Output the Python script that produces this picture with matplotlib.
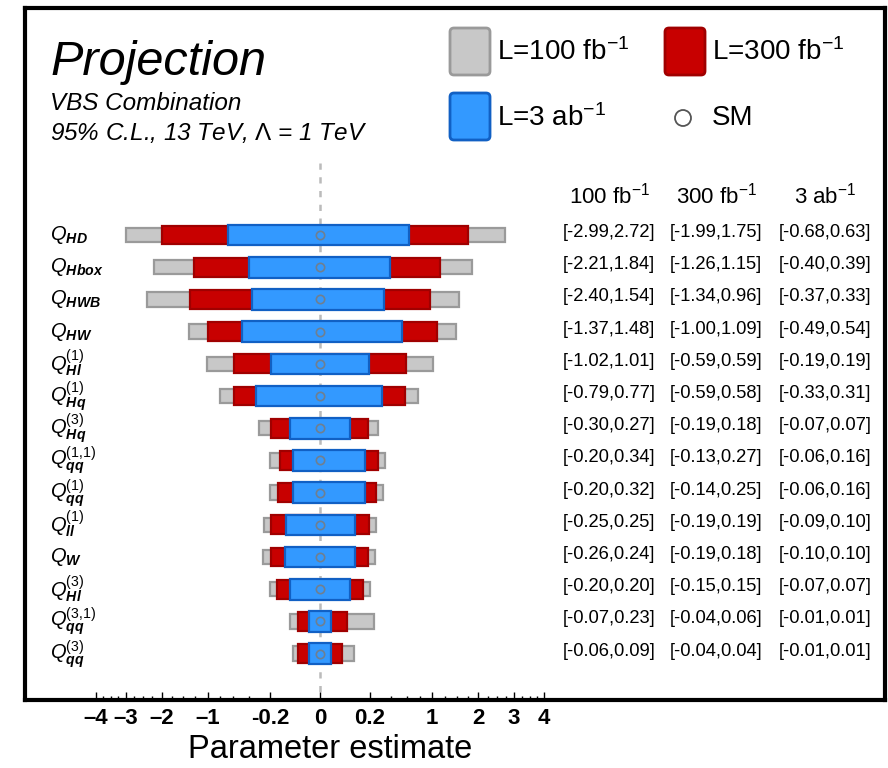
import matplotlib
matplotlib.use("Agg")
import matplotlib.pyplot as plt
from matplotlib.patches import FancyBboxPatch, Circle
import numpy as np

plt.rcParams['font.family'] = ['Liberation Sans', 'DejaVu Sans']
plt.rcParams['mathtext.fontset'] = 'custom'
plt.rcParams['mathtext.rm'] = 'Liberation Sans'
plt.rcParams['mathtext.it'] = 'Liberation Sans:italic:bold'
plt.rcParams['mathtext.sf'] = 'Liberation Sans:italic'
plt.rcParams['mathtext.bf'] = 'Liberation Sans:bold'

# --- Operators and 95% C.L. intervals ---
operators = [
    r'$\mathsf{Q}_{\mathit{HD}}$',
    r'$\mathsf{Q}_{\mathit{Hbox}}$',
    r'$\mathsf{Q}_{\mathit{HWB}}$',
    r'$\mathsf{Q}_{\mathit{HW}}$',
    r'$\mathsf{Q}_{\mathit{Hl}}^{\mathit{(1)}}$',
    r'$\mathsf{Q}_{\mathit{Hq}}^{\mathit{(1)}}$',
    r'$\mathsf{Q}_{\mathit{Hq}}^{\mathit{(3)}}$',
    r'$\mathsf{Q}_{\mathit{qq}}^{\mathit{(1{,}1)}}$',
    r'$\mathsf{Q}_{\mathit{qq}}^{\mathit{(1)}}$',
    r'$\mathsf{Q}_{\mathit{ll}}^{\mathit{(1)}}$',
    r'$\mathsf{Q}_{\mathit{W}}$',
    r'$\mathsf{Q}_{\mathit{Hl}}^{\mathit{(3)}}$',
    r'$\mathsf{Q}_{\mathit{qq}}^{\mathit{(3{,}1)}}$',
    r'$\mathsf{Q}_{\mathit{qq}}^{\mathit{(3)}}$',
]

lo_100 = [-2.99, -2.21, -2.40, -1.37, -1.02, -0.79, -0.30, -0.20, -0.20, -0.25, -0.26, -0.20, -0.07, -0.06]
hi_100 = [2.72, 1.84, 1.54, 1.48, 1.01, 0.77, 0.27, 0.34, 0.32, 0.25, 0.24, 0.20, 0.23, 0.09]
lo_300 = [-1.99, -1.26, -1.34, -1.00, -0.59, -0.59, -0.19, -0.13, -0.14, -0.19, -0.19, -0.15, -0.04, -0.04]
hi_300 = [1.75, 1.15, 0.96, 1.09, 0.59, 0.58, 0.18, 0.27, 0.25, 0.19, 0.18, 0.15, 0.06, 0.04]
lo_3ab = [-0.68, -0.40, -0.37, -0.49, -0.19, -0.33, -0.07, -0.06, -0.06, -0.09, -0.10, -0.07, -0.01, -0.01]
hi_3ab = [0.63, 0.39, 0.33, 0.54, 0.19, 0.31, 0.07, 0.16, 0.16, 0.10, 0.10, 0.07, 0.01, 0.01]

sm_value = 0.0

xticks = [-4, -3, -2, -1, -0.2, 0, 0.2, 1, 2, 3, 4]
xticklabels = ['\u20134', '\u20133', '\u20132', '\u20131', '-0.2', '0', '0.2', '1', '2', '3', '4']
xminor = [-3.75, -3.5, -3.25, -2.75, -2.5, -2.25, -1.75, -1.5, -1.25, -0.8, -0.6, -0.4,
          0.4, 0.6, 0.8, 1.25, 1.5, 1.75, 2.25, 2.5, 2.75, 3.25, 3.5, 3.75]

col_headers = ['100 fb$^{-1}$', '300 fb$^{-1}$', '3 ab$^{-1}$']

# colours: (fill, edge, bar height)
styles = {
    '100': ('#c8c8c8', '#9a9a9a', 0.45),
    '300': ('#c80000', '#a00000', 0.58),
    '3ab': ('#3399ff', '#1160c4', 0.64),
}

W, H = 888, 768
fig = plt.figure(figsize=(W / 100, H / 100), dpi=100)
ax = fig.add_axes([25 / W, 68 / H, 860 / W, 692 / H])

# signed square-root axis
def fwd(x):
    x = np.asarray(x, dtype=float)
    return np.sign(x) * np.sqrt(np.abs(x))

def inv(x):
    x = np.asarray(x, dtype=float)
    return np.sign(x) * x ** 2

ax.set_xscale('function', functions=(fwd, inv))
ax.set_xlim(-6.94, 25.45)
ax.set_ylim(14.44, -7.05)

y = np.arange(len(operators))

for key, lo, hi in [('100', lo_100, hi_100), ('300', lo_300, hi_300), ('3ab', lo_3ab, hi_3ab)]:
    fc, ec, h = styles[key]
    lo = np.array(lo)
    hi = np.array(hi)
    ax.barh(y, hi - lo, left=lo, height=h, color=fc, edgecolor=ec, linewidth=1.6, zorder=2)

ax.plot([0, 0], [-2.24, 14.44], ls=(0, (2.5, 3)), color='#bbbbbb', lw=1.8, zorder=1)
ax.plot(np.full(len(y), sm_value), y, 'o', mfc='none', mec='#6f7f90', ms=6, mew=1.2, zorder=4)

# axis styling
for s in ax.spines.values():
    s.set_linewidth(3)
ax.set_yticks([])
ax.set_xticks(xticks)
ax.set_xticklabels(xticklabels, fontsize=16, fontweight='bold')
ax.set_xticks(xminor, minor=True)
ax.tick_params(axis='x', which='major', direction='in', length=6, width=1, pad=6)
ax.tick_params(axis='x', which='minor', direction='in', length=3, width=1)

# operator labels
ytr = ax.get_yaxis_transform()
for i, lab in enumerate(operators):
    ax.text((50 - 25) / 860, i, lab, transform=ytr, ha='left', va='center', fontsize=14.5)

# table of intervals
col_x = [(609 - 25) / 860, (716 - 25) / 860, (825 - 25) / 860]
for cx, head in zip(col_x, col_headers):
    ax.text(cx, -1.24, head, transform=ytr, ha='center', va='center', fontsize=16)
for i in range(len(operators)):
    for cx, lo, hi in zip(col_x, [lo_100[i], lo_300[i], lo_3ab[i]], [hi_100[i], hi_300[i], hi_3ab[i]]):
        ax.text(cx, i - 0.08, f'[{lo:.2f},{hi:.2f}]', transform=ytr,
                ha='center', va='center', fontsize=13.2)

# header texts
fig.text(50 / W, 1 - 75 / H, 'Projection', fontsize=35, style='italic', va='baseline')
fig.text(50 / W, 1 - 110 / H, 'VBS Combination', fontsize=17.5, style='italic', va='baseline')
fig.text(50 / W, 1 - 140 / H, r'95% C.L., 13 TeV, $\Lambda$ = 1 TeV', fontsize=17.5,
         style='italic', va='baseline')

# legend
inch = fig.dpi_scale_trans
for (px, py), key in [((450, 28), '100'), ((665, 28), '300'), ((450, 93), '3ab')]:
    fc, ec, _ = styles[key]
    box = FancyBboxPatch((px / 100, (H - py - 47) / 100), 0.40, 0.47,
                         boxstyle='round,pad=0,rounding_size=0.04',
                         fc=fc, ec=ec, lw=2, transform=inch)
    fig.add_artist(box)
fig.add_artist(Circle((683 / 100, (H - 118) / 100), 0.08, fc='white', ec='#555555',
                      lw=1.3, transform=inch))
fig.text(497 / W, 1 - 52 / H, 'L=100 fb$^{-1}$', fontsize=20, va='center')
fig.text(712 / W, 1 - 52 / H, 'L=300 fb$^{-1}$', fontsize=20, va='center')
fig.text(497 / W, 1 - 118 / H, 'L=3 ab$^{-1}$', fontsize=20, va='center')
fig.text(712 / W, 1 - 118 / H, 'SM', fontsize=20, va='center')

fig.text(330 / W, 1 - 750 / H, 'Parameter estimate', fontsize=23.5, ha='center', va='center')

fig.savefig('out.png', dpi=100)
